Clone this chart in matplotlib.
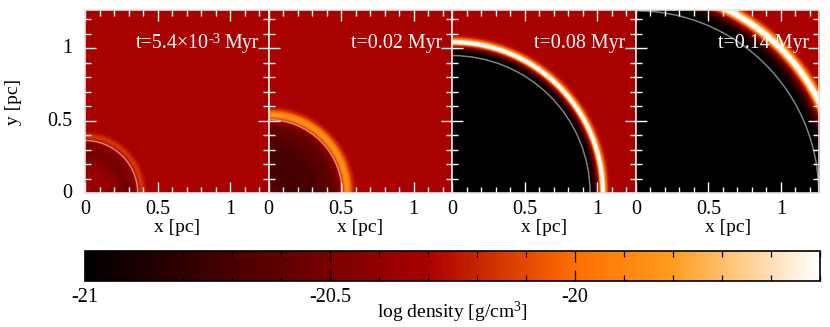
#!/usr/bin/env python3
import numpy as np
import matplotlib
matplotlib.use('Agg')
import matplotlib.pyplot as plt
from matplotlib.colors import LinearSegmentedColormap, Normalize
from matplotlib.cm import ScalarMappable
from matplotlib.patches import Circle
from matplotlib.transforms import ScaledTranslation

plt.rcParams['font.family'] = ['Liberation Serif', 'DejaVu Serif']
plt.rcParams['mathtext.fontset'] = 'custom'
plt.rcParams['mathtext.rm'] = 'Liberation Serif'
plt.rcParams['mathtext.default'] = 'rm'

# radial density profiles: radius [pc], log density
labels = ['Myr', 't=0.02 Myr', 't=0.08 Myr', 't=0.14 Myr']
r1 = [0.0, 0.1, 0.2, 0.28, 0.34, 0.365, 0.38, 0.395, 0.41, 0.43, 2.0]
d1 = [-20.38, -20.36, -20.42, -20.53, -20.44, -20.28, -20.16, -20.15, -20.24, -20.30, -20.30]
r2 = [0.0, 0.15, 0.3, 0.45, 0.485, 0.505, 0.52, 0.537, 0.555, 0.575, 0.60, 2.0]
d2 = [-20.62, -20.72, -20.70, -20.58, -20.45, -20.22, -19.95, -19.80, -19.95, -20.18, -20.30, -20.30]
r3 = [0.0, 0.96, 0.985, 1.005, 1.018, 1.028, 1.048, 1.06, 1.08, 1.10, 2.0]
d3 = [-21.0, -21.0, -20.8, -20.4, -20.0, -19.5, -19.5, -19.95, -20.26, -20.30, -20.30]
r4 = [0.0, 1.28, 1.32, 1.35, 1.375, 1.395, 1.42, 1.435, 1.45, 1.47, 2.0]
d4 = [-21.0, -21.0, -20.85, -20.55, -20.05, -19.5, -19.5, -19.85, -20.15, -20.30, -20.30]
radii = [r1, r2, r3, r4]
densities = [d1, d2, d3, d4]
contact = [0.363, 0.507, 0.95, 1.26]

# colour scale stops
cmap_pos = [0.0, 0.467, 0.667, 0.80, 1.0]
cmap_col = ['#000000', '#aa0000', '#ff6e00', '#ff9c1e', '#ffffff']
cmap = LinearSegmentedColormap.from_list('dens', list(zip(cmap_pos, cmap_col)))
norm = Normalize(-21, -19.5)

W, H = 830.0, 327.0
fig = plt.figure(figsize=(W / 100, H / 100), dpi=100)

xmax = 1.265
g = np.linspace(0, xmax, 400)
X, Y = np.meshgrid(g, g)
R = np.sqrt(X**2 + Y**2)
shift_up = ScaledTranslation(0, 2 / 100, fig.dpi_scale_trans)

for i in range(4):
    left = 85 + i * 183.6
    ax = fig.add_axes([left / W, 1 - 193 / H, 183.6 / W, 183 / H])
    field = np.interp(R, radii[i], densities[i])
    ax.imshow(field, origin='lower', extent=[0, xmax, 0, xmax], cmap=cmap, norm=norm,
              aspect='auto', interpolation='bilinear')
    ax.add_patch(Circle((0, 0), contact[i], fill=False, ec='white', lw=1.1, alpha=0.5))
    ax.set_xlim(0, xmax)
    ax.set_ylim(0, xmax)
    ax.set_xticks([0, 0.5, 1])
    ax.set_xticklabels(['0', '0.5', '1'])
    ax.set_xticks(np.arange(0, 1.25, 0.1), minor=True)
    ax.set_yticks([0, 0.5, 1])
    ax.set_yticks(np.arange(0, 1.25, 0.1), minor=True)
    ax.tick_params(which='major', direction='in', top=True, right=True, length=8, width=1,
                   color='white', labelsize=14.5)
    ax.tick_params(axis='x', which='major', pad=5)
    ax.tick_params(axis='y', which='major', pad=9)
    ax.tick_params(which='minor', direction='in', top=True, right=True, length=4, width=1,
                   color='white')
    if i == 0:
        ax.set_yticklabels(['0', '0.5', '1'])
        for lab in ax.get_yticklabels():
            lab.set_transform(lab.get_transform() + shift_up)
        ax.set_ylabel('y [pc]', fontsize=14)
        ax.yaxis.set_label_coords(-63 / 183.6, 0.5)
        # first label has a short hyphen in the exponent, mathtext would make it a minus
        ax.text(0.85, 1.0, 't=5.4\u00d710', color='white', fontsize=14.4, ha='right', va='baseline')
        ax.text(0.85, 1.04, '-3', color='white', fontsize=10.5, ha='left', va='baseline')
    else:
        ax.tick_params(axis='y', labelleft=False)
    ax.set_xlabel('x [pc]', fontsize=14, labelpad=0)
    for s in ax.spines.values():
        s.set_color('#e4e4e4')
        s.set_linewidth(1.2)
    ax.text(1.195, 1.0, labels[i], color='white', fontsize=14.4, ha='right', va='baseline')

cax = fig.add_axes([85 / W, 1 - 281 / H, 735 / W, 30 / H])
cb = fig.colorbar(ScalarMappable(norm=norm, cmap=cmap), cax=cax, orientation='horizontal')
cb.set_ticks([-21, -20.5, -20])
cb.set_ticklabels(['-21', '-20.5', '-20'])
cb.ax.set_xticks(np.arange(-21, -19.45, 0.1), minor=True)
cb.ax.tick_params(which='major', direction='in', top=True, length=8, width=0.9, labelsize=14.5, pad=5)
cb.ax.tick_params(which='minor', direction='in', top=True, length=4, width=0.9)
cb.outline.set_linewidth(1.2)
cb.set_label('log density [g/cm$^{3}$]', fontsize=14, labelpad=-5)

fig.savefig('out.png', dpi=100)
